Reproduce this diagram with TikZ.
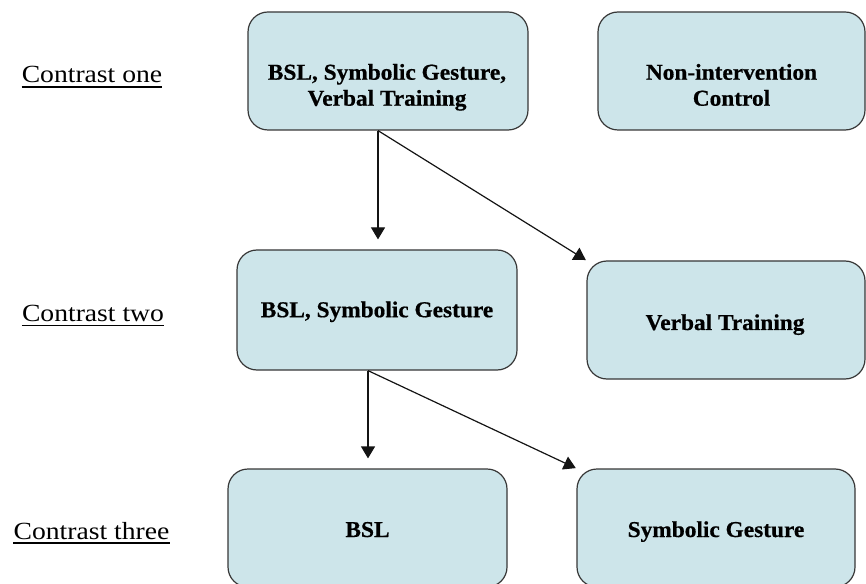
\documentclass[tikz,border=0pt]{standalone}
\usepackage{fontspec}
\setmainfont{Liberation Serif}
\newfontfamily\lblfont[FakeStretch=1.12]{Liberation Serif}
\newfontfamily\boxfont[FakeStretch=1.03,FakeBold=0.6]{Liberation Serif}
\usetikzlibrary{arrows.meta}
\definecolor{boxfill}{RGB}{205,229,234}
\definecolor{boxline}{RGB}{55,55,55}
\definecolor{arrowcol}{RGB}{20,20,20}
\begin{document}
\begin{tikzpicture}[x=0.75pt,y=-0.75pt,
  stagebox/.style={draw=boxline, fill=boxfill, line width=0.9pt, rounded corners=15pt, minimum height=88.5pt, inner sep=0pt},
  boxtext/.style={font=\boxfont\bfseries\fontsize{17}{19.5}\selectfont, align=center, inner sep=0pt},
  lbl/.style={font=\lblfont\fontsize{18.5}{22}\selectfont, inner sep=0pt, anchor=base},
  uline/.style={line width=1.4pt, draw=black},
  conn/.style={draw=arrowcol, line width=0.9pt, -{Triangle[length=9pt,width=10.5pt]}}]
\useasboundingbox (0,0) rectangle (866,584);
\clip (0,0) rectangle (866,584);

% boxes
\node[stagebox, minimum width=210pt] (b1) at (388,71) {};
\node[stagebox, minimum width=200.25pt] (b2) at (731.5,71) {};
\node[stagebox, minimum width=210pt, minimum height=90pt] (b3) at (377,310) {};
\node[stagebox, minimum width=208.5pt] (b4) at (726,320) {};
\node[stagebox, minimum width=209.25pt] (b5) at (367.5,528) {};
\node[stagebox, minimum width=208.5pt] (b6) at (716,528) {};

% box texts
\node[boxtext] (t1) at (387,87.5) {\strut BSL, Symbolic Gesture,\\Verbal Training\strut};
\node[boxtext] (t2) at (731.5,87.5) {\strut Non-intervention\\Control\strut};
\node[boxtext] (t3) at (377,312) {\strut BSL, Symbolic Gesture\strut};
\node[boxtext] (t4) at (725,324.8) {\strut Verbal Training\strut};
\node[boxtext] (t5) at (367.5,531.8) {\strut BSL\strut};
\node[boxtext] (t6) at (716,531.8) {\strut Symbolic Gesture\strut};

% row labels
\node[lbl] (l1) at (92,83) {Contrast one};
\node[lbl] (l2) at (93,321.5) {Contrast two};
\node[lbl] (l3) at (91.5,539) {Contrast three};
\draw[uline] ([yshift=-3pt]l1.base west) -- ([yshift=-3pt]l1.base east);
\draw[uline] ([yshift=-3pt]l2.base west) -- ([yshift=-3pt]l2.base east);
\draw[uline] ([yshift=-3pt]l3.base west) -- ([yshift=-3pt]l3.base east);

% connectors
\draw[conn, shorten >=7.5pt] ([xshift=-7.5pt]b1.south) -- ([xshift=0.75pt]b3.north);
\draw[conn, shorten >=0.5pt] ([xshift=-7.5pt]b1.south) -- (b4.north west);
\draw[conn, shorten >=7.5pt] ([xshift=-6.75pt]b3.south) -- ([xshift=0.375pt]b5.north);
\draw[conn, shorten >=0.5pt] ([xshift=-6.75pt]b3.south) -- (b6.north west);
\end{tikzpicture}
\end{document}
